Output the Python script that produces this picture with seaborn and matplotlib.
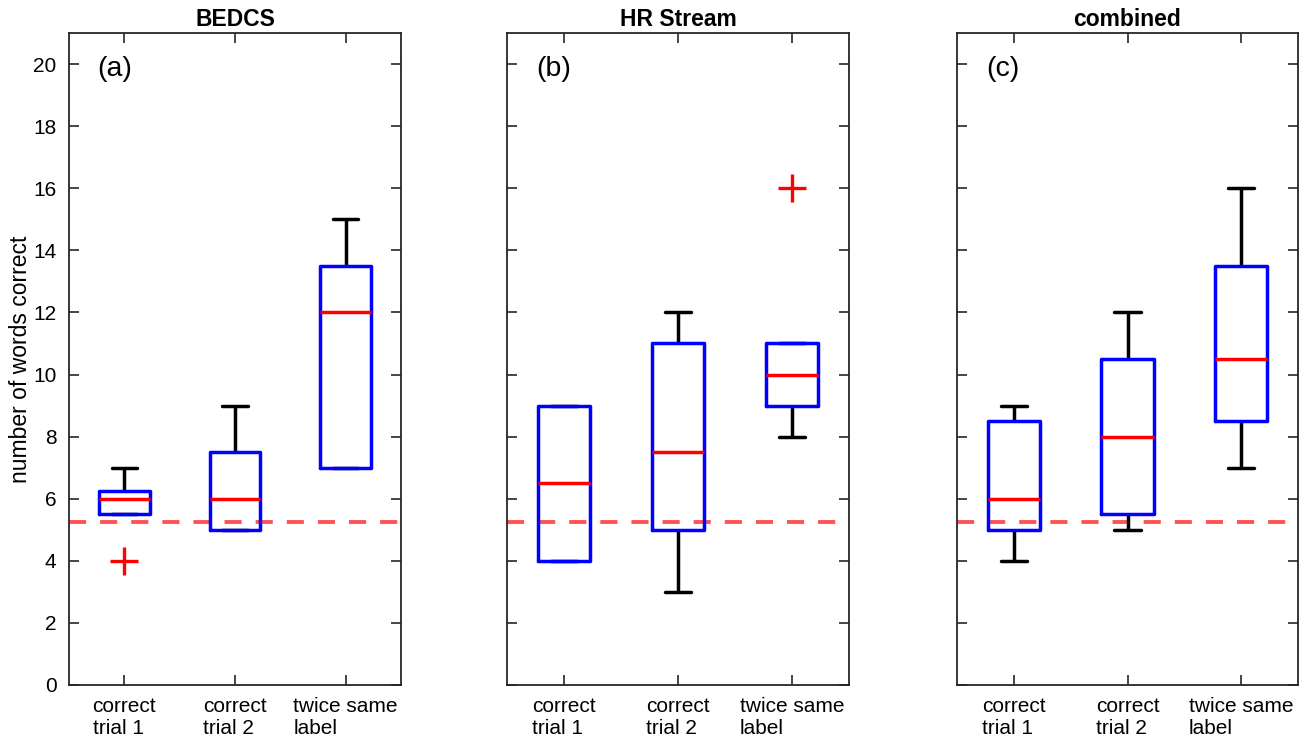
import numpy as np
import pandas as pd
import matplotlib
matplotlib.use("Agg")
import matplotlib.pyplot as plt
import seaborn as sns

sns.set_theme(style="ticks")
plt.rcParams['font.family'] = ['Liberation Sans', 'DejaVu Sans']
plt.rcParams['text.color'] = 'black'
plt.rcParams['axes.labelcolor'] = 'black'
plt.rcParams['xtick.labelcolor'] = 'black'
plt.rcParams['ytick.labelcolor'] = 'black'

conditions = ["correct\ntrial 1", "correct\ntrial 2", "twice same\nlabel"]
panels = ["BEDCS", "HR Stream", "combined"]
panel_tags = ["(a)", "(b)", "(c)"]

bedcs_trial1 = [4, 5.5, 6, 6.25, 7]
bedcs_trial2 = [5, 5, 6, 7.5, 9]
bedcs_twice = [7, 7, 12, 13.5, 15]

hr_trial1 = [4, 4, 6.5, 9, 9]
hr_trial2 = [3, 5, 7.5, 11, 12]
hr_twice = [8, 9, 10, 11, 16]

comb_trial1 = [4, 5, 6, 8.5, 9]
comb_trial2 = [5, 5.5, 8, 10.5, 12]
comb_twice = [7, 8.5, 10.5, 13.5, 16]

chance_level = 5.25
yticks = list(range(0, 21, 2))

panel_data = {
    "BEDCS": [bedcs_trial1, bedcs_trial2, bedcs_twice],
    "HR Stream": [hr_trial1, hr_trial2, hr_twice],
    "combined": [comb_trial1, comb_trial2, comb_twice],
}

rows = []
for p in panels:
    for c, vals in zip(conditions, panel_data[p]):
        for v in vals:
            rows.append({"panel": p, "condition": c, "value": v})
df = pd.DataFrame(rows)

W, H = 1308, 739
fig = plt.figure(figsize=(W / 100, H / 100), dpi=100)
ax_px = [(69, 401), (507, 849), (957, 1298)]
top_px, bot_px = 33, 685

spine_col = "#262626"
lw = 2.5
for i, p in enumerate(panels):
    l, r = ax_px[i]
    ax = fig.add_axes([l / W, (H - bot_px) / H, (r - l) / W, (bot_px - top_px) / H])
    sub = df[df.panel == p]
    sns.boxplot(data=sub, x="condition", y="value", order=conditions, ax=ax,
                fill=False, width=0.46, linewidth=lw, linecolor="blue",
                whis=1.5,
                boxprops=dict(color="blue", linewidth=lw, zorder=3),
                whiskerprops=dict(color="black", linewidth=lw, zorder=2),
                capprops=dict(color="black", linewidth=lw, zorder=2),
                medianprops=dict(color="red", linewidth=lw, zorder=4),
                flierprops=dict(marker="+", markeredgecolor="red", markerfacecolor="red",
                                markersize=20, markeredgewidth=2.4, zorder=4))
    ax.axhline(chance_level, color="#ff4040", alpha=0.9, linewidth=2.8,
               linestyle=(0, (4.4, 3.6)), zorder=1)
    ax.set_ylim(0, 21)
    ax.set_xlim(-0.5, 2.5)
    ax.set_yticks(yticks)
    ax.set_xlabel("")
    ax.set_title(p, fontsize=16.5, fontweight="bold", pad=5, color="black")
    ax.tick_params(direction="in", top=True, right=True, length=7, width=1.2,
                   color=spine_col, labelsize=15, pad=9)
    for s in ax.spines.values():
        s.set_visible(True)
        s.set_color(spine_col)
        s.set_linewidth(1.3)
    ax.set_xticks(range(3))
    ax.set_xticklabels(conditions, multialignment="left", linespacing=1.2)
    if i == 0:
        ax.set_ylabel("number of words correct", fontsize=16.5, labelpad=1)
    else:
        ax.set_ylabel("")
        ax.set_yticklabels([])
    ax.text(0.085, 0.945, panel_tags[i], transform=ax.transAxes, fontsize=20.5,
            ha="left", va="center")

fig.savefig("out.png", dpi=100)
